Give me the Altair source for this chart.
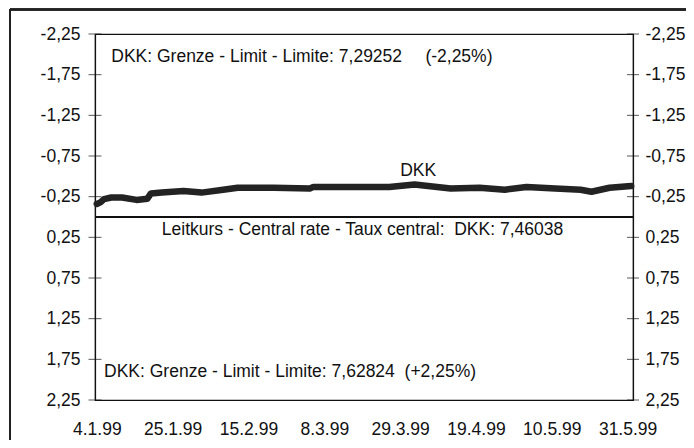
import altair as alt
import pandas as pd

# DKK deviation from central rate (%)
dates = ["1999-01-04", "1999-01-05", "1999-01-06", "1999-01-08", "1999-01-11", "1999-01-15",
         "1999-01-18", "1999-01-19", "1999-01-22", "1999-01-28", "1999-02-02", "1999-02-08",
         "1999-02-12", "1999-02-22", "1999-03-04", "1999-03-05", "1999-03-15", "1999-03-26",
         "1999-04-02", "1999-04-12", "1999-04-20", "1999-04-27", "1999-05-03", "1999-05-11",
         "1999-05-18", "1999-05-21", "1999-05-26", "1999-06-01"]
dkk = [-0.16, -0.18, -0.22, -0.24, -0.24, -0.21,
       -0.225, -0.29, -0.30, -0.32, -0.30, -0.335,
       -0.36, -0.36, -0.35, -0.37, -0.37, -0.37,
       -0.40, -0.35, -0.36, -0.335, -0.37, -0.35,
       -0.335, -0.31, -0.36, -0.38]

y_ticks = [-2.25, -1.75, -1.25, -0.75, -0.25, 0.25, 0.75, 1.25, 1.75, 2.25]
x_ticks = [(1999, 1, 4), (1999, 1, 25), (1999, 2, 15), (1999, 3, 8),
           (1999, 3, 29), (1999, 4, 19), (1999, 5, 10), (1999, 5, 31)]

ann_left_texts = ["DKK: Grenze - Limit - Limite: 7,29252", "(-2,25%)",
                  "Leitkurs - Central rate - Taux central:\u00a0 DKK: 7,46038",
                  "DKK: Grenze - Limit - Limite: 7,62824\u00a0 (+2,25%)"]
ann_left_dates = ["1999-01-08", "1999-04-05", "1999-01-22", "1999-01-06"]
ann_left_values = [-1.97, -1.97, 0.165, 1.91]

ann_center_texts = ["DKK"]
ann_center_dates = ["1999-04-03"]
ann_center_values = [-0.57]

FONT = "Liberation Sans"
FS = 17.5
W, H = 538, 366

df_line = pd.DataFrame({"date": dates, "value": dkk})
df_ticks = pd.DataFrame({"tick": y_ticks})
df_ann_l = pd.DataFrame({"date": ann_left_dates, "value": ann_left_values, "label": ann_left_texts})
df_ann_c = pd.DataFrame({"date": ann_center_dates, "value": ann_center_values, "label": ann_center_texts})

x_scale = alt.Scale(type="utc", domain=[
    alt.DateTime(year=1999, month=1, date=3, hours=12, utc=True),
    alt.DateTime(year=1999, month=6, date=1, hours=12, utc=True)])
y_scale = alt.Scale(domain=[-2.25, 2.25], reverse=True, nice=False, zero=False)

label_expr_y = "(datum.value < 0 ? '-' : '') + replace(format(abs(datum.value), '.2f'), '.', ',')"

x_axis = alt.Axis(
    values=[alt.DateTime(year=y, month=m, date=d, utc=True) for (y, m, d) in x_ticks],
    labelExpr="utcFormat(datum.value, '%-d.%-m.%y')",
    ticks=False, tickSize=0, labelPadding=20, labelFlush=False, labelOverlap=False,
    labelFont=FONT, labelFontSize=FS, labelColor="#111", grid=False, domain=True,
    domainColor="#111", title=None)

left_axis = alt.Axis(orient="left", values=y_ticks, labelExpr=label_expr_y, ticks=False,
                     tickSize=0, labelPadding=15, labelFlush=False, labelOverlap=False,
                     labelFont=FONT, labelFontSize=FS, labelColor="#111", grid=False,
                     domainColor="#111", title=None)
right_axis = alt.Axis(orient="right", values=y_ticks, labelExpr=label_expr_y, ticks=False,
                      tickSize=0, labelPadding=12, labelFlush=False, labelOverlap=False,
                      labelFont=FONT, labelFontSize=FS, labelColor="#111", grid=False,
                      domainColor="#111", title=None)

line = alt.Chart(df_line).mark_line(color="#232323", strokeWidth=6.5, strokeJoin="round",
                                    strokeCap="round").encode(
    x=alt.X("date:T", scale=x_scale, axis=x_axis),
    y=alt.Y("value:Q", scale=y_scale, axis=left_axis))

ticks_left = alt.Chart(df_ticks).mark_tick(orient="horizontal", size=13, thickness=1,
                                           color="#111").encode(
    x=alt.value(0),
    y=alt.Y("tick:Q", scale=y_scale, axis=None))

ticks_right = alt.Chart(df_ticks).mark_tick(orient="horizontal", size=12, thickness=1,
                                            color="#111").encode(
    x=alt.value(W),
    y=alt.Y("tick:Q", scale=y_scale, axis=right_axis))

central = alt.Chart(df_ticks).mark_rule(color="#111", strokeWidth=1.5).encode(
    y=alt.Y(datum=0, type="quantitative", scale=y_scale, axis=None))

ann_l = alt.Chart(df_ann_l).mark_text(align="left", baseline="middle", font=FONT,
                                      fontSize=FS, color="#111").encode(
    x=alt.X("date:T", scale=x_scale, axis=x_axis),
    y=alt.Y("value:Q", scale=y_scale, axis=None),
    text="label:N")

ann_c = alt.Chart(df_ann_c).mark_text(align="center", baseline="middle", font=FONT,
                                      fontSize=FS, color="#111").encode(
    x=alt.X("date:T", scale=x_scale, axis=x_axis),
    y=alt.Y("value:Q", scale=y_scale, axis=None),
    text="label:N")

frame_top = alt.Chart(df_ticks).mark_rule(color="#222", strokeWidth=1.5).encode(
    x=alt.value(-85), x2=alt.value(W + 60), y=alt.value(-24.5))
frame_left = alt.Chart(df_ticks).mark_rule(color="#222", strokeWidth=1.5).encode(
    x=alt.value(-85), y=alt.value(-24.5), y2=alt.value(H + 60))

chart = alt.layer(frame_top, frame_left, central, ticks_left, ticks_right, line, ann_l, ann_c).resolve_axis(
    y="independent").properties(
    width=W, height=H,
    padding={"left": 87, "top": 26, "right": 53, "bottom": 40},
    autosize=alt.AutoSizeParams(type="none"),
    background="white"
).configure_view(stroke="#111", strokeWidth=1.2).configure_axis(domainWidth=1.2)

chart.save("out.html", embed_options={"renderer": "svg", "actions": False})
